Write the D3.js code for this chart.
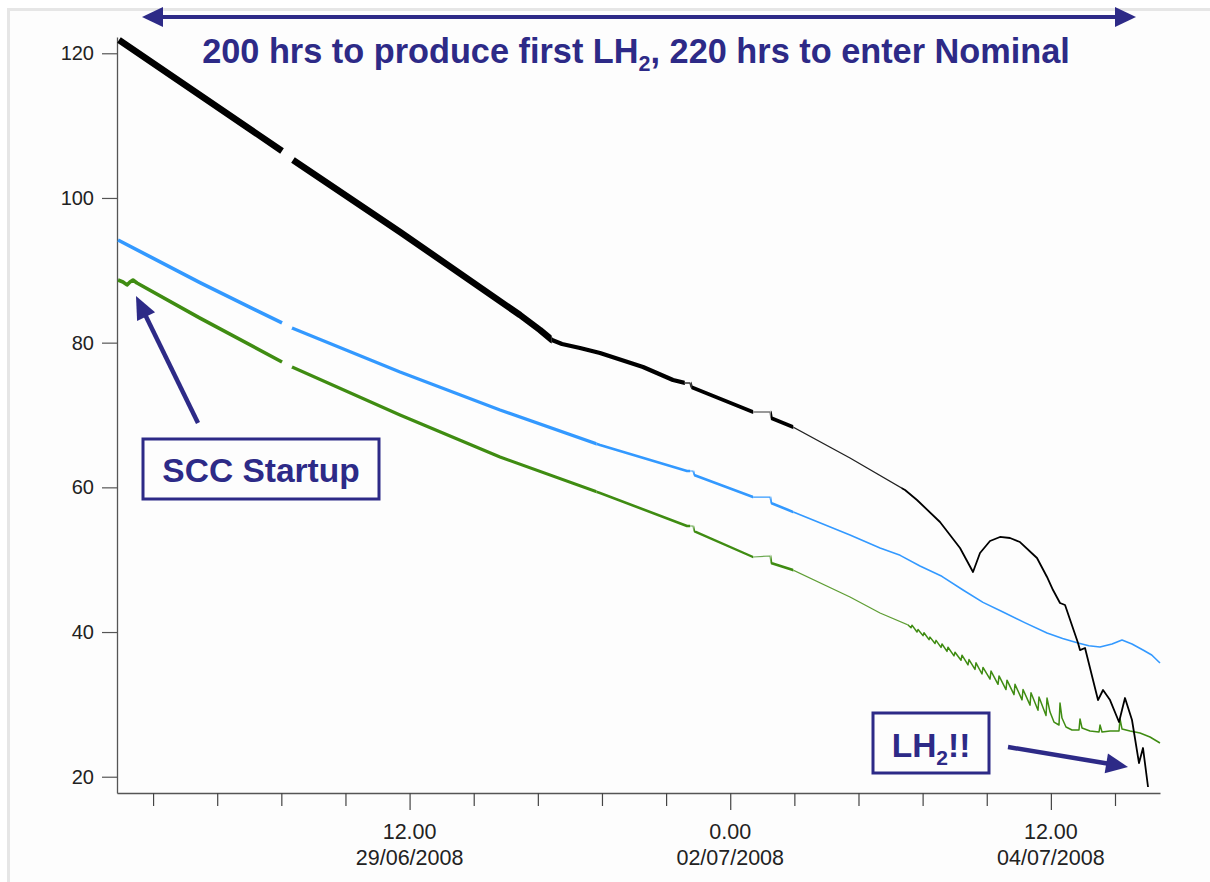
<!DOCTYPE html>
<html><head><meta charset="utf-8">
<script src="https://cdn.jsdelivr.net/npm/d3@7"></script>
<style>
html,body{margin:0;padding:0;background:#fff;}
svg{display:block;font-family:"Liberation Sans",Arial,Helvetica,sans-serif;}
</style></head><body>
<svg id="chart" width="1210" height="882"></svg>
<script>
// ---- DATA: [hours since 27/06/2008 05:00, temperature] ; null = data gap ----
const blackSeries = [
 [0.62,121.84],[31.13,106.5],[31.9,null],[33.18,105.25],[53.21,95.3],[75.66,83.82],[79.4,81.75],
 [81.65,80.37],[83.52,79.82],[86.89,79.26],[90.63,78.57],[98.68,76.64],[104.29,74.84],
 [106.54,74.42],[107.47,74.42],[107.66,73.87],[119.26,70.41],[122.44,70.41],[122.63,69.59],
 [126.75,68.34],[137.41,64.06],[147.71,59.63],[149.95,58.25],[154.25,55.21],[158.0,51.61],
 [160.43,48.3],[161.74,50.92],[163.61,52.58],[165.48,53.14],[167.35,53.0],[169.22,52.44],
 [172.4,50.23],[174.28,47.61],[175.4,45.81],[176.71,44.01],[177.65,43.74],[180.08,38.48],
 [180.45,37.51],[181.39,37.79],[183.82,30.6],[184.76,31.99],[186.07,30.6],[187.75,27.56],
 [188.87,30.88],[190.18,27.84],[191.49,21.89],[192.24,23.97],[193.18,18.58]
];
const blueSeries = [
 [0.44,94.19],[15.78,88.3],[31.13,82.72],[31.9,null],[33.0,82.03],[53.21,75.94],[71.92,70.69],
 [90.63,65.85],[106.91,62.26],[108.03,62.26],[108.22,61.71],[119.26,58.66],[122.44,58.66],
 [122.63,57.84],[137.41,53.41],[143.03,51.61],[146.8,50.6],[150.51,49.13],[154.6,47.7],
 [158.56,45.81],[162.3,44.1],[166.04,42.77],[170.1,41.3],[174.28,39.86],[177.2,39.1],
 [180.08,38.48],[182.1,38.1],[184.19,37.93],[186.44,38.34],[188.31,38.9],[190.18,38.34],
 [192.24,37.51],[193.87,36.82],[195.42,35.72]
];
const greenSeries = [
 [0.44,88.66],[1.37,88.39],[2.12,87.98],[2.68,88.39],[3.24,88.66],[3.99,88.25],[15.78,83.4],
 [31.13,77.33],[31.9,null],[33.0,76.64],[53.21,70.0],[71.92,64.19],[90.63,59.22],
 [106.91,54.66],[108.03,54.66],[108.22,53.96],[119.26,50.37],[122.44,50.51],[122.63,49.54],
 [126.75,48.57],[137.41,44.84],[143.03,42.63],[148.27,40.97],
 [148.83,40.6],[149.01,40.95],[149.95,40.0],[150.14,40.35],[151.07,39.5],[151.26,39.9],
 [152.2,38.95],[152.38,39.3],[153.32,38.41],[153.51,38.85],[154.44,37.87],[154.63,38.35],
 [155.56,37.33],[155.75,37.9],[156.87,36.71],[157.06,37.2],[158.18,36.09],[158.37,36.8],
 [159.49,35.45],[159.68,36.2],[160.8,34.83],[160.99,35.75],[162.11,34.2],[162.3,35.1],
 [163.61,33.49],[163.8,34.6],[165.11,32.77],[165.3,33.93],[166.6,32.05],[166.79,33.35],
 [168.1,31.34],[168.29,32.77],[169.6,30.62],[169.79,32.05],[171.1,29.9],[171.28,31.61],
 [172.59,29.19],[172.78,31.03],[174.09,28.47],[174.28,30.87],[174.84,28.94],[175.58,27.56],
 [176.52,27.15],[176.71,30.19],[177.08,28.11],[177.83,26.87],[178.95,26.46],[180.26,26.46],
 [180.45,27.98],[180.83,26.73],[182.32,26.32],[184.01,26.18],[184.2,27.15],[184.57,26.18],
 [186.07,26.32],[187.75,26.32],[187.94,27.98],[188.32,26.59],[189.81,26.32],[191.68,26.04],
 [193.55,25.49],[195.42,24.66]
];
const yTickValues = [20, 40, 60, 80, 100, 120];
const xMinorTickHours = [7,19,31,43,55,67,79,91,103,115,127,139,151,163,175,187];
const xMajorTickHours = [55, 115, 175];
const xMajorTimeLabels = ["12.00", "0.00", "12.00"];
const xMajorDateLabels = ["29/06/2008", "02/07/2008", "04/07/2008"];
const titleParts = ["200 hrs to produce first LH", "2", ", 220 hrs to enter Nominal"];
const sccLabel = "SCC Startup";
const lh2Parts = ["LH", "2", "!!"];

// ---- helpers ----
const base = Date.UTC(2008, 5, 27, 5, 0);
const t = h => new Date(base + h * 3600e3);
const svg = d3.select("#chart");
const ANN = "#2d2a87";

// frame
svg.append("rect").attr("x", 0).attr("y", 0).attr("width", 1210).attr("height", 882).attr("fill", "#fff");
svg.append("rect").attr("x", 8.5).attr("y", 9.5).attr("width", 1230).attr("height", 900)
  .attr("fill", "#fdfdfd").attr("stroke", "#e6e6e6").attr("stroke-width", 3);

const x = d3.scaleUtc().domain([t(0.25), t(195.42)]).range([117, 1160]);
const y = d3.scaleLinear().domain([17.75, 122.25]).range([793, 37]);

// axes
const yAxis = svg.append("g").attr("transform", "translate(117,0)")
  .call(d3.axisLeft(y).tickValues(yTickValues).tickSize(15).tickSizeOuter(0).tickPadding(8));
yAxis.select(".domain").attr("stroke", "#555").attr("stroke-width", 1.3);
yAxis.selectAll(".tick line").attr("stroke", "#555").attr("stroke-width", 1.2);
yAxis.selectAll(".tick text").attr("font-size", 20).attr("fill", "#222")
  .attr("font-family", "'Liberation Sans',Arial,sans-serif");

const xAxis = svg.append("g").attr("transform", "translate(0,793)")
  .call(d3.axisBottom(x).tickValues(xMinorTickHours.map(t)).tickSize(13).tickSizeOuter(0).tickFormat(""));
xAxis.select(".domain").attr("stroke", "#555").attr("stroke-width", 1.5);
xAxis.selectAll(".tick line").attr("stroke", "#444").attr("stroke-width", 1.2)
  .attr("y2", (d) => xMajorTickHours.some(h => +t(h) === +d) ? 17 : 13);
xMajorTickHours.forEach((h, i) => {
  const g = svg.append("text").attr("x", x(t(h))).attr("text-anchor", "middle")
    .attr("font-size", 21.5).attr("fill", "#222");
  g.append("tspan").attr("x", x(t(h))).attr("y", 839).text(xMajorTimeLabels[i]);
  g.append("tspan").attr("x", x(t(h))).attr("y", 865).text(xMajorDateLabels[i]);
});

// series with varying stroke width via clip segments
const line = d3.line().defined(d => d[1] != null).x(d => x(t(d[0]))).y(d => y(d[1]));
const defs = svg.append("defs");
let clipId = 0;
function drawSeries(data, segs) {
  segs.forEach(([h0, h1, w, col]) => {
    const id = "clip" + (clipId++);
    const x0 = h0 <= 0 ? 100 : x(t(h0));
    const x1 = h1 >= 999 ? 1200 : x(t(h1));
    defs.append("clipPath").attr("id", id).append("rect")
      .attr("x", x0).attr("y", 0).attr("width", x1 - x0).attr("height", 882);
    svg.append("path").datum(data).attr("d", line).attr("fill", "none")
      .attr("stroke", col).attr("stroke-width", w).attr("stroke-linejoin", "round")
      .attr("clip-path", `url(#${id})`);
  });
}
const BLUE = "#3399ff", GREEN = "#3f8c12", BLACK = "#000";
drawSeries(greenSeries, [
  [0, 33, 3.6, GREEN], [33, 90, 3.2, GREEN], [90, 107.5, 2.6, GREEN], [107.5, 108.2, 1.2, "#6aa84f"],
  [108.2, 119.3, 2.4, GREEN], [119.3, 122.6, 1.2, "#6aa84f"], [122.6, 126.8, 2.8, GREEN],
  [126.8, 148.2, 1.3, "#5f9e35"], [148.2, 999, 1.5, GREEN]
]);
drawSeries(blueSeries, [
  [0, 33, 3.6, BLUE], [33, 90, 3.2, BLUE], [90, 107.5, 2.6, BLUE], [107.5, 108.2, 1.2, BLUE],
  [108.2, 119.3, 2.6, BLUE], [119.3, 122.6, 1.2, BLUE], [122.6, 126.8, 2.6, BLUE],
  [126.8, 999, 1.6, BLUE]
]);
drawSeries(blackSeries, [
  [0, 81.6, 6.5, BLACK], [81.6, 106.5, 4.2, BLACK], [106.5, 107.7, 1.4, "#333"],
  [107.7, 119.3, 3.6, BLACK], [119.3, 122.6, 1.4, "#777"], [122.6, 126.8, 3.6, BLACK],
  [126.8, 147, 1.3, "#222"], [147, 999, 1.8, BLACK]
]);

// annotations
function arrow(x1, y1, x2, y2, w, hl, hw) {
  const a = Math.atan2(y2 - y1, x2 - x1), c = Math.cos(a), s = Math.sin(a);
  const bx = x2 - hl * c, by = y2 - hl * s;
  svg.append("line").attr("x1", x1).attr("y1", y1).attr("x2", bx + c).attr("y2", by + s)
    .attr("stroke", ANN).attr("stroke-width", w);
  svg.append("path").attr("fill", ANN).attr("d",
    `M${x2},${y2}L${bx - hw * s},${by + hw * c}L${bx + hw * s},${by - hw * c}Z`);
}
// top double arrow
arrow(640, 17, 1136, 17, 4, 21, 10);
arrow(640, 17, 142, 17, 4, 21, 10);
const title = svg.append("text").attr("x", 636).attr("y", 63).attr("text-anchor", "middle")
  .attr("font-size", 34.3).attr("font-weight", "bold").attr("fill", ANN);
title.append("tspan").text(titleParts[0]);
title.append("tspan").attr("font-size", 21.5).attr("dy", 8).text(titleParts[1]);
title.append("tspan").attr("dy", -8).text(titleParts[2]);

// SCC startup box + arrow
svg.append("rect").attr("x", 143).attr("y", 439).attr("width", 236).attr("height", 60)
  .attr("fill", "none").attr("stroke", ANN).attr("stroke-width", 3);
svg.append("text").attr("x", 261).attr("y", 482).attr("text-anchor", "middle")
  .attr("font-size", 33.5).attr("font-weight", "bold").attr("fill", ANN).text(sccLabel);
arrow(198, 423, 136, 296, 4.5, 23, 10);

// LH2 box + arrow
svg.append("rect").attr("x", 873).attr("y", 713).attr("width", 116).attr("height", 60)
  .attr("fill", "none").attr("stroke", ANN).attr("stroke-width", 3);
const lh = svg.append("text").attr("x", 931).attr("y", 757).attr("text-anchor", "middle")
  .attr("font-size", 33.5).attr("font-weight", "bold").attr("fill", ANN);
lh.append("tspan").text(lh2Parts[0]);
lh.append("tspan").attr("font-size", 21).attr("dy", 8).text(lh2Parts[1]);
lh.append("tspan").attr("dy", -8).text(lh2Parts[2]);
arrow(1008, 747, 1128, 767, 4.5, 22, 10);
</script>
</body></html>
